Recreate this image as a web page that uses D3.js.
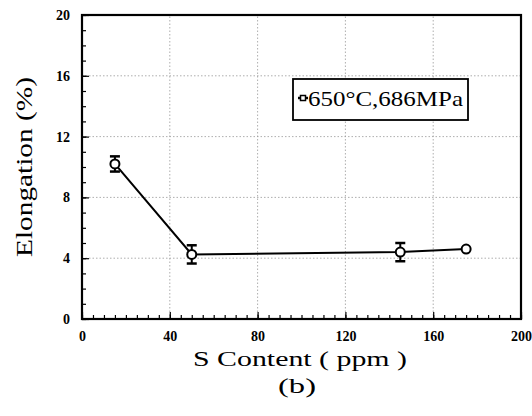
<!DOCTYPE html>
<html>
<head>
<meta charset="utf-8">
<script src="https://cdn.jsdelivr.net/npm/d3@7"></script>
<style>
  body { margin: 0; background: #fff; }
  svg text { font-family: "Liberation Serif", "Tinos", "Times New Roman", "Times", "DejaVu Serif", "Noto Serif", serif; }
</style>
</head>
<body>
<svg id="chart" width="532" height="416"></svg>
<script>
// data
const sContent = [15, 50, 145, 175]
const elongation = [10.2, 4.25, 4.4, 4.6]
const errors = [0.5, 0.6, 0.6, 0]
const xTicks = [0, 40, 80, 120, 160, 200]
const yTicks = [0, 4, 8, 12, 16, 20]
const seriesName = '650\u00B0C,686MPa'

const margin = { left: 82, right: 11, top: 15, bottom: 97 }
const width = 532, height = 416

const svg = d3.select('#chart')

const x = d3.scaleLinear().domain([0, 200]).range([margin.left, width - margin.right])
const y = d3.scaleLinear().domain([0, 20]).range([height - margin.bottom, margin.top])

// dotted grid
const grid = svg.append('g').attr('class', 'grid')
grid.selectAll('line.gx').data(xTicks.slice(1, -1)).enter()
  .append('line')
  .attr('x1', d => x(d)).attr('x2', d => x(d))
  .attr('y1', y(0)).attr('y2', y(20))
  .attr('stroke', '#999').attr('stroke-width', 0.8).attr('stroke-dasharray', '1.5,2')
grid.selectAll('line.gy').data(yTicks.slice(1, -1)).enter()
  .append('line')
  .attr('x1', x(0)).attr('x2', x(200))
  .attr('y1', d => y(d)).attr('y2', d => y(d))
  .attr('stroke', '#999').attr('stroke-width', 0.8).attr('stroke-dasharray', '1.5,2')

// axes, ticks pointing inward
const xAxis = d3.axisBottom(x).tickValues(xTicks).tickSize(-7).tickPadding(12)
const xMinor = d3.axisBottom(x).ticks(40).tickSize(-4).tickFormat('')
const yAxis = d3.axisLeft(y).tickValues(yTicks).tickSize(-7).tickPadding(12)
const yMinor = d3.axisLeft(y).ticks(20).tickSize(-4).tickFormat('')

const styleAxis = g => {
  g.attr('font-family', null)
  g.select('.domain').remove()
  g.selectAll('line').attr('stroke', '#000').attr('stroke-width', 1.2)
  g.selectAll('text').attr('fill', '#000')
    .style('font-size', '14px').style('font-weight', 'bold')
}

svg.append('g').attr('transform', `translate(0,${y(0)})`).call(xMinor).call(styleAxis)
svg.append('g').attr('transform', `translate(0,${y(0)})`).call(xAxis).call(styleAxis)
svg.append('g').attr('transform', `translate(${x(0)},0)`).call(yMinor).call(styleAxis)
svg.append('g').attr('transform', `translate(${x(0)},0)`).call(yAxis).call(styleAxis)

// frame
svg.append('rect')
  .attr('x', x(0)).attr('y', y(20))
  .attr('width', x(200) - x(0)).attr('height', y(0) - y(20))
  .attr('fill', 'none').attr('stroke', '#000').attr('stroke-width', 2.2)

// series
const pts = sContent.map((s, i) => ({ s, e: elongation[i], err: errors[i] }))

svg.append('path')
  .datum(pts)
  .attr('fill', 'none').attr('stroke', '#000').attr('stroke-width', 2)
  .attr('d', d3.line().x(d => x(d.s)).y(d => y(d.e)))

const eb = svg.append('g').selectAll('g').data(pts.filter(d => d.err > 0)).enter().append('g')
eb.append('line')
  .attr('x1', d => x(d.s)).attr('x2', d => x(d.s))
  .attr('y1', d => y(d.e + d.err)).attr('y2', d => y(d.e - d.err))
  .attr('stroke', '#000').attr('stroke-width', 2)
eb.selectAll('line.cap').data(d => [[d.s, d.e + d.err], [d.s, d.e - d.err]]).enter()
  .append('line')
  .attr('x1', d => x(d[0]) - 5).attr('x2', d => x(d[0]) + 5)
  .attr('y1', d => y(d[1])).attr('y2', d => y(d[1]))
  .attr('stroke', '#000').attr('stroke-width', 2.5)

svg.append('g').selectAll('circle').data(pts).enter()
  .append('circle')
  .attr('cx', d => x(d.s)).attr('cy', d => y(d.e)).attr('r', 4.5)
  .attr('fill', '#fff').attr('stroke', '#000').attr('stroke-width', 2)

// legend
const lg = svg.append('g').attr('transform', 'translate(293,79)')
lg.append('rect').attr('width', 175).attr('height', 41)
  .attr('fill', '#fff').attr('stroke', '#000').attr('stroke-width', 1.8)
lg.append('line').attr('x1', 5).attr('x2', 15).attr('y1', 19).attr('y2', 19)
  .attr('stroke', '#000').attr('stroke-width', 2.5)
lg.append('rect').attr('x', 7.5).attr('y', 16.5).attr('width', 5).attr('height', 5)
  .attr('fill', '#fff').attr('stroke', '#000').attr('stroke-width', 1.5)
lg.append('text').attr('x', 15).attr('y', 27)
  .attr('textLength', 155).attr('lengthAdjust', 'spacingAndGlyphs')
  .style('font-size', '21px').text(seriesName)

// axis titles
svg.append('text')
  .attr('transform', 'translate(32,167) rotate(-90)')
  .attr('text-anchor', 'middle')
  .attr('textLength', 180).attr('lengthAdjust', 'spacingAndGlyphs')
  .style('font-size', '23px')
  .text('Elongation (%)')

svg.append('text')
  .attr('x', 300).attr('y', 366)
  .attr('text-anchor', 'middle')
  .attr('textLength', 214).attr('lengthAdjust', 'spacingAndGlyphs')
  .style('font-size', '22px')
  .text('S Content ( ppm )')

svg.append('text')
  .attr('x', 297).attr('y', 393)
  .attr('text-anchor', 'middle')
  .attr('textLength', 38).attr('lengthAdjust', 'spacingAndGlyphs')
  .style('font-size', '21px')
  .text('(b)')
</script>
</body>
</html>
